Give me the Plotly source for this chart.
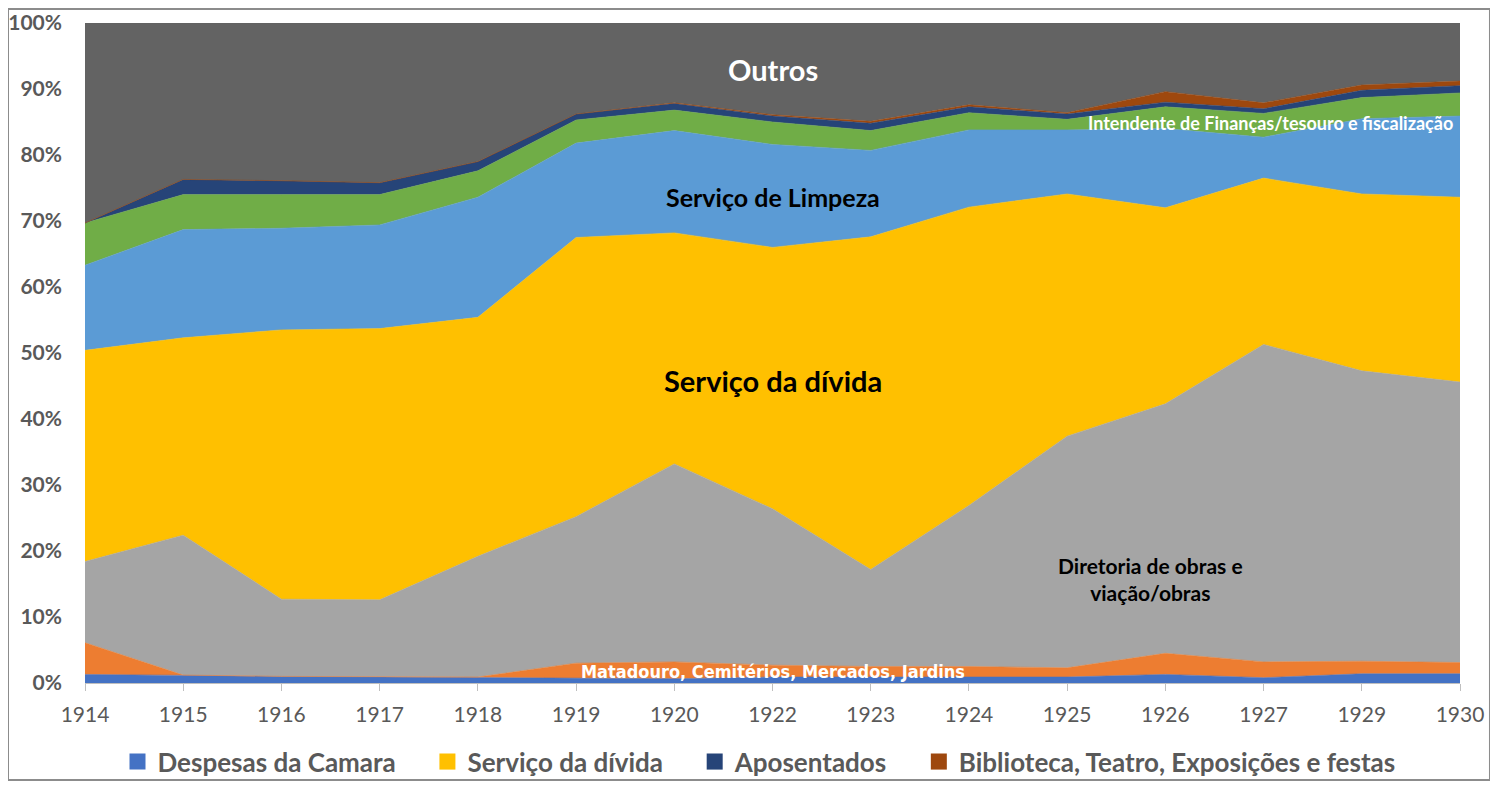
import plotly.graph_objects as go

# Years (1921 and 1928 are missing in the source)
years = ["1914", "1915", "1916", "1917", "1918", "1919", "1920", "1922",
         "1923", "1924", "1925", "1926", "1927", "1929", "1930"]

# Share of total expenditure, %
despesas_camara = [1.3, 1.1, 1.0, 0.9, 0.8, 0.65, 0.65, 0.9, 0.9, 0.9, 0.9, 1.3, 0.8, 1.4, 1.4]
matadouro = [4.8, 0.1, 0.0, 0.0, 0.1, 2.35, 2.55, 1.8, 1.6, 1.6, 1.4, 3.2, 2.4, 1.9, 1.7]
diretoria_obras = [12.3, 21.2, 11.7, 11.7, 18.3, 22.2, 30.0, 23.7, 14.7, 24.4, 35.1, 37.8, 48.1, 44.0, 42.5]
servico_divida = [32.0, 29.9, 40.8, 41.1, 36.2, 42.3, 35.0, 39.6, 50.4, 45.2, 36.7, 29.7, 25.2, 26.8, 28.0]
servico_limpeza = [12.9, 16.4, 15.4, 15.7, 18.2, 14.3, 15.5, 15.6, 13.1, 11.7, 9.7, 12.0, 6.2, 11.4, 12.3]
intendente = [6.4, 5.3, 5.1, 4.6, 4.0, 3.5, 3.1, 3.4, 3.0, 2.6, 1.6, 3.3, 3.6, 3.2, 3.5]
aposentados = [0.0, 2.3, 2.1, 1.8, 1.4, 0.9, 1.0, 0.9, 1.1, 0.9, 0.8, 0.7, 0.7, 1.1, 1.1]
biblioteca = [0.0, 0.0, 0.0, 0.0, 0.0, 0.0, 0.1, 0.2, 0.3, 0.3, 0.2, 1.6, 0.9, 0.8, 0.7]
outros = [30.3, 23.7, 23.9, 24.2, 21.0, 13.8, 12.1, 13.9, 14.9, 12.4, 13.6, 10.4, 12.1, 9.4, 8.8]

series = [
    ("Despesas da Camara", despesas_camara, "#4472C4", True),
    ("Matadouro, Cemitérios, Mercados, Jardins", matadouro, "#ED7D31", False),
    ("Diretoria de obras e viação/obras", diretoria_obras, "#A5A5A5", False),
    ("Serviço da dívida", servico_divida, "#FFC000", True),
    ("Serviço de Limpeza", servico_limpeza, "#5B9BD5", False),
    ("Intendente de Finanças/tesouro e fiscalização", intendente, "#70AD47", False),
    ("Aposentados", aposentados, "#264478", True),
    ("Biblioteca, Teatro, Exposições e festas", biblioteca, "#9E480E", True),
    ("Outros", outros, "#636363", False),
]

FONT = "Lato"
GREY = "#595959"

fig = go.Figure()
for name, vals, color, show in series:
    fig.add_trace(go.Scatter(
        x=years, y=vals, name=name, mode="lines",
        stackgroup="one", groupnorm="percent",
        line=dict(width=0.6, color=color),
        fillcolor=color, showlegend=False,
    ))

# legend-only entries with square swatches (Excel shows only four)
for name, vals, color, show in series:
    if show:
        fig.add_trace(go.Scatter(
            x=[None], y=[None], mode="markers", name=f"<b>{name}</b>    ",
            marker=dict(symbol="square", size=17, color=color),
        ))

# in-chart labels (x is the category index)
labels = [
    ("Outros", 7.0, 92.9, 29, "white", FONT),
    ("Serviço de Limpeza", 7.0, 73.6, 25, "black", FONT),
    ("Serviço da dívida", 7.0, 45.9, 29, "black", FONT),
    ("Intendente de Finanças/tesouro e fiscalização", 12.07, 84.8, 18, "white", FONT),
    ("Diretoria de obras e<br>viação/obras", 10.85, 15.8, 21, "black", FONT),
    ("Matadouro, Cemitérios, Mercados, Jardins", 7.0, 1.8, 18, "white", "DejaVu Sans Condensed"),
]
for text, x, y, size, color, fam in labels:
    fig.add_annotation(x=x, y=y, text=f"<b>{text}</b>", showarrow=False,
                       font=dict(size=size, color=color, family=fam))

# outer chart border
fig.add_shape(type="rect", xref="paper", yref="paper",
              x0=-0.056, x1=1.0218, y0=-0.147, y1=1.0212,
              line=dict(color="#8c8c8c", width=2))

fig.update_layout(
    width=1490, height=777,
    margin=dict(l=77, r=38, t=15, b=102),
    plot_bgcolor="white", paper_bgcolor="white",
    font=dict(family=FONT, color=GREY),
    legend=dict(orientation="h", x=0.5, xanchor="center",
                yref="container", y=0.03, yanchor="middle",
                bgcolor="rgba(0,0,0,0)",
                font=dict(size=26, color=GREY, family=FONT), traceorder="normal",
                itemwidth=30),
)
fig.update_xaxes(type="category", range=[0, len(years) - 1], automargin=False,
                 showline=True, linecolor="#bfbfbf", ticks="outside", ticklen=7,
                 tickcolor="#bfbfbf", tickfont=dict(size=21, color=GREY),
                 ticklabelstandoff=6, showgrid=False)
fig.update_yaxes(range=[0, 100], dtick=10, ticksuffix="%", showgrid=False,
                 tickprefix="<b>", tickfont=dict(size=21, color=GREY),
                 ticklabelstandoff=22, zeroline=False, automargin=False)

fig.write_html("out.html")
